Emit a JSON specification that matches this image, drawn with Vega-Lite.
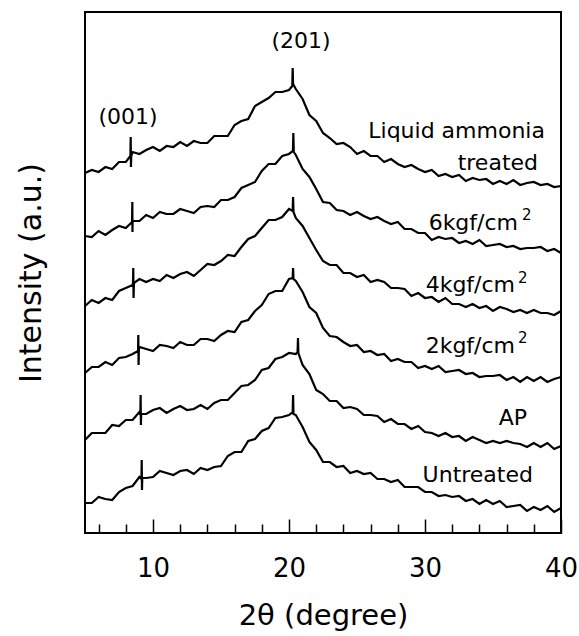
{
  "$schema": "https://vega.github.io/schema/vega-lite/v6.json",
  "width": 476,
  "height": 521,
  "autosize": "none",
  "padding": {"left": 85, "top": 12, "right": 18, "bottom": 103},
  "config": {"view": {"stroke": "black", "strokeWidth": 2}, "font": "DejaVu Sans"},
  "datasets": {
    "curves": [
      {"x":5,"LA":360,"K6":297,"K4":227,"K2":160,"AP":93,"U":30},
      {"x":5.5,"LA":363,"K6":296,"K4":233,"K2":166,"AP":100,"U":30},
      {"x":6,"LA":361,"K6":302,"K4":230,"K2":166,"AP":100,"U":36},
      {"x":6.5,"LA":366,"K6":298,"K4":235,"K2":171,"AP":100,"U":34},
      {"x":7,"LA":364,"K6":303,"K4":233,"K2":168,"AP":108,"U":33},
      {"x":7.5,"LA":371,"K6":307,"K4":242,"K2":175,"AP":107,"U":41},
      {"x":8,"LA":371,"K6":305,"K4":245,"K2":176,"AP":113,"U":45},
      {"x":8.5,"LA":381,"K6":312,"K4":248,"K2":179,"AP":113,"U":47},
      {"x":9,"LA":379,"K6":312,"K4":254,"K2":186,"AP":121,"U":56},
      {"x":9.5,"LA":383,"K6":318,"K4":251,"K2":184,"AP":119,"U":55},
      {"x":10,"LA":386,"K6":315,"K4":254,"K2":182,"AP":123,"U":56},
      {"x":10.5,"LA":382,"K6":321,"K4":252,"K2":188,"AP":125,"U":62},
      {"x":11,"LA":387,"K6":319,"K4":258,"K2":187,"AP":120,"U":60},
      {"x":11.5,"LA":386,"K6":319,"K4":255,"K2":185,"AP":124,"U":58},
      {"x":12,"LA":391,"K6":324,"K4":259,"K2":191,"AP":127,"U":62},
      {"x":12.5,"LA":387,"K6":322,"K4":261,"K2":188,"AP":123,"U":63},
      {"x":13,"LA":392,"K6":320,"K4":257,"K2":188,"AP":124,"U":59},
      {"x":13.5,"LA":390,"K6":326,"K4":263,"K2":194,"AP":128,"U":65},
      {"x":14,"LA":390,"K6":327,"K4":269,"K2":194,"AP":124,"U":63},
      {"x":14.5,"LA":397,"K6":326,"K4":268,"K2":192,"AP":130,"U":66},
      {"x":15,"LA":397,"K6":333,"K4":272,"K2":198,"AP":133,"U":67},
      {"x":15.5,"LA":397,"K6":333,"K4":278,"K2":202,"AP":133,"U":77},
      {"x":16,"LA":408,"K6":336,"K4":277,"K2":201,"AP":140,"U":81},
      {"x":16.5,"LA":412,"K6":345,"K4":286,"K2":211,"AP":147,"U":81},
      {"x":17,"LA":414,"K6":348,"K4":294,"K2":213,"AP":148,"U":92},
      {"x":17.5,"LA":427,"K6":351,"K4":297,"K2":222,"AP":153,"U":94},
      {"x":18,"LA":431,"K6":362,"K4":305,"K2":228,"AP":163,"U":102},
      {"x":18.5,"LA":435,"K6":369,"K4":313,"K2":239,"AP":165,"U":105},
      {"x":19,"LA":441,"K6":369,"K4":313,"K2":242,"AP":174,"U":115},
      {"x":19.5,"LA":441,"K6":377,"K4":316,"K2":242,"AP":176,"U":116},
      {"x":20,"LA":443,"K6":379,"K4":324,"K2":254,"AP":180,"U":118},
      {"x":20.5,"LA":444,"K6":378,"K4":315,"K2":252,"AP":179,"U":118},
      {"x":21,"LA":434,"K6":364,"K4":307,"K2":241,"AP":168,"U":106},
      {"x":21.5,"LA":418,"K6":356,"K4":295,"K2":226,"AP":159,"U":91},
      {"x":22,"LA":412,"K6":344,"K4":283,"K2":220,"AP":143,"U":83},
      {"x":22.5,"LA":400,"K6":331,"K4":272,"K2":205,"AP":139,"U":71},
      {"x":23,"LA":395,"K6":330,"K4":268,"K2":197,"AP":132,"U":71},
      {"x":23.5,"LA":389,"K6":323,"K4":268,"K2":196,"AP":132,"U":66},
      {"x":24,"LA":390,"K6":322,"K4":260,"K2":191,"AP":125,"U":67},
      {"x":24.5,"LA":386,"K6":318,"K4":260,"K2":187,"AP":126,"U":60},
      {"x":25,"LA":379,"K6":321,"K4":256,"K2":188,"AP":124,"U":62},
      {"x":25.5,"LA":382,"K6":317,"K4":258,"K2":181,"AP":118,"U":59},
      {"x":26,"LA":377,"K6":314,"K4":251,"K2":182,"AP":118,"U":60},
      {"x":26.5,"LA":377,"K6":316,"K4":253,"K2":178,"AP":117,"U":54},
      {"x":27,"LA":371,"K6":312,"K4":251,"K2":179,"AP":111,"U":54},
      {"x":27.5,"LA":374,"K6":309,"K4":245,"K2":172,"AP":114,"U":51},
      {"x":28,"LA":369,"K6":311,"K4":245,"K2":174,"AP":109,"U":53},
      {"x":28.5,"LA":366,"K6":304,"K4":244,"K2":171,"AP":109,"U":46},
      {"x":29,"LA":368,"K6":304,"K4":237,"K2":171,"AP":104,"U":46},
      {"x":29.5,"LA":364,"K6":300,"K4":240,"K2":165,"AP":107,"U":46},
      {"x":30,"LA":361,"K6":300,"K4":235,"K2":167,"AP":101,"U":41},
      {"x":30.5,"LA":363,"K6":293,"K4":236,"K2":164,"AP":100,"U":41},
      {"x":31,"LA":357,"K6":296,"K4":231,"K2":167,"AP":97,"U":37},
      {"x":31.5,"LA":359,"K6":294,"K4":235,"K2":161,"AP":100,"U":38},
      {"x":32,"LA":356,"K6":295,"K4":229,"K2":162,"AP":96,"U":36},
      {"x":32.5,"LA":358,"K6":290,"K4":229,"K2":163,"AP":97,"U":37},
      {"x":33,"LA":352,"K6":292,"K4":226,"K2":159,"AP":92,"U":32},
      {"x":33.5,"LA":355,"K6":289,"K4":229,"K2":160,"AP":96,"U":34},
      {"x":34,"LA":353,"K6":293,"K4":225,"K2":156,"AP":93,"U":29},
      {"x":34.5,"LA":354,"K6":287,"K4":227,"K2":157,"AP":90,"U":33},
      {"x":35,"LA":349,"K6":288,"K4":222,"K2":157,"AP":92,"U":29},
      {"x":35.5,"LA":352,"K6":289,"K4":226,"K2":158,"AP":90,"U":32},
      {"x":36,"LA":349,"K6":286,"K4":224,"K2":153,"AP":92,"U":26},
      {"x":36.5,"LA":353,"K6":287,"K4":221,"K2":156,"AP":90,"U":27},
      {"x":37,"LA":348,"K6":284,"K4":223,"K2":151,"AP":89,"U":28},
      {"x":37.5,"LA":350,"K6":285,"K4":220,"K2":156,"AP":86,"U":22},
      {"x":38,"LA":351,"K6":285,"K4":223,"K2":152,"AP":90,"U":26},
      {"x":38.5,"LA":348,"K6":286,"K4":220,"K2":156,"AP":86,"U":23},
      {"x":39,"LA":349,"K6":282,"K4":220,"K2":151,"AP":90,"U":27},
      {"x":39.5,"LA":346,"K6":284,"K4":218,"K2":154,"AP":84,"U":21},
      {"x":40,"LA":347,"K6":280,"K4":222,"K2":156,"AP":87,"U":25},
      {"x":8.34,"LA":377},{"x":8.36,"LA":396},{"x":8.38,"LA":366},{"x":8.4,"LA":377},
      {"x":8.46,"K6":311},{"x":8.48,"K6":331},{"x":8.49,"K6":301},
      {"x":8.53,"K4":250},{"x":8.55,"K4":265},{"x":8.57,"K4":235},{"x":8.6,"K4":250},
      {"x":8.9,"K2":182},{"x":8.92,"K2":198},{"x":8.94,"K2":168},{"x":8.96,"K2":183},
      {"x":9.07,"AP":118},{"x":9.09,"AP":138},{"x":9.11,"AP":108},{"x":9.13,"AP":119},
      {"x":9.15,"U":54},{"x":9.17,"U":73},{"x":9.19,"U":43},{"x":9.21,"U":55},
      {"x":20.24,"LA":447},{"x":20.27,"LA":465},{"x":20.3,"LA":449},
      {"x":20.29,"K6":382},{"x":20.32,"K6":400},{"x":20.35,"K6":381},
      {"x":20.27,"K4":322},{"x":20.3,"K4":336},{"x":20.33,"K4":321},
      {"x":20.27,"K2":255},{"x":20.3,"K2":265},{"x":20.33,"K2":254},
      {"x":20.63,"AP":181},{"x":20.66,"AP":195},{"x":20.69,"AP":180},
      {"x":20.27,"U":121},{"x":20.3,"U":138},{"x":20.33,"U":119}
    ],
    "names": [
      {"x":38.82,"v":395,"t":"Liquid ammonia"},
      {"x":38.31,"v":363,"t":"treated"},
      {"x":36.84,"v":303,"t":"6kgf/cm"},
      {"x":36.62,"v":241,"t":"4kgf/cm"},
      {"x":36.62,"v":180,"t":"2kgf/cm"},
      {"x":37.5,"v":108,"t":"AP"},
      {"x":37.94,"v":51,"t":"Untreated"}
    ],
    "supers": [
      {"x":37.13,"v":313,"t":"2"},
      {"x":36.84,"v":250,"t":"2"},
      {"x":36.84,"v":190,"t":"2"}
    ],
    "peaks": [
      {"x":20.88,"v":485,"t":"(201)"},
      {"x":8.16,"v":409,"t":"(001)"}
    ]
  },
  "encoding": {
    "x": {
      "field": "x", "type": "quantitative",
      "scale": {"domain": [5, 40], "nice": false, "zero": false},
      "axis": {
        "values": [6,8,10,12,14,16,18,20,22,24,26,28,30,32,34,36,38,40],
        "labelExpr": "datum.value % 10 === 0 ? datum.label : ''",
        "tickSize": {"condition": {"test": "datum.value % 10 === 0", "value": -14}, "value": -9},
        "tickColor": "black", "tickWidth": 1.5,
        "domain": false, "grid": false,
        "labelFlush": false, "labelBound": false, "labelOverlap": false,
        "labelFontSize": 26, "labelColor": "black", "labelPadding": 36,
        "title": "2θ (degree)", "titleFontSize": 29, "titleFontWeight": "normal",
        "titleColor": "black", "titlePadding": 15
      }
    },
    "y": {
      "field": "v", "type": "quantitative",
      "scale": {"domain": [0, 521], "nice": false, "zero": false},
      "axis": {
        "ticks": false, "labels": false, "domain": false, "grid": false,
        "title": "Intensity (a.u.)", "titleFontSize": 30, "titleFontWeight": "normal",
        "titleColor": "black", "titlePadding": 39
      }
    }
  },
  "layer": [
    {
      "data": {"name": "curves"},
      "transform": [
        {"fold": ["LA", "K6", "K4", "K2", "AP", "U"], "as": ["s", "v"]},
        {"filter": "isValid(datum.v)"}
      ],
      "mark": {"type": "line", "color": "black", "strokeWidth": 2.2, "invalid": "filter"},
      "encoding": {"detail": {"field": "s", "type": "nominal"}}
    },
    {
      "data": {"name": "names"},
      "mark": {"type": "text", "align": "right", "baseline": "alphabetic", "fontSize": 22, "color": "black"},
      "encoding": {"text": {"field": "t"}}
    },
    {
      "data": {"name": "supers"},
      "mark": {"type": "text", "align": "left", "baseline": "alphabetic", "fontSize": 15, "color": "black"},
      "encoding": {"text": {"field": "t"}}
    },
    {
      "data": {"name": "peaks"},
      "mark": {"type": "text", "align": "center", "baseline": "alphabetic", "fontSize": 22, "color": "black"},
      "encoding": {"text": {"field": "t"}}
    }
  ]
}
